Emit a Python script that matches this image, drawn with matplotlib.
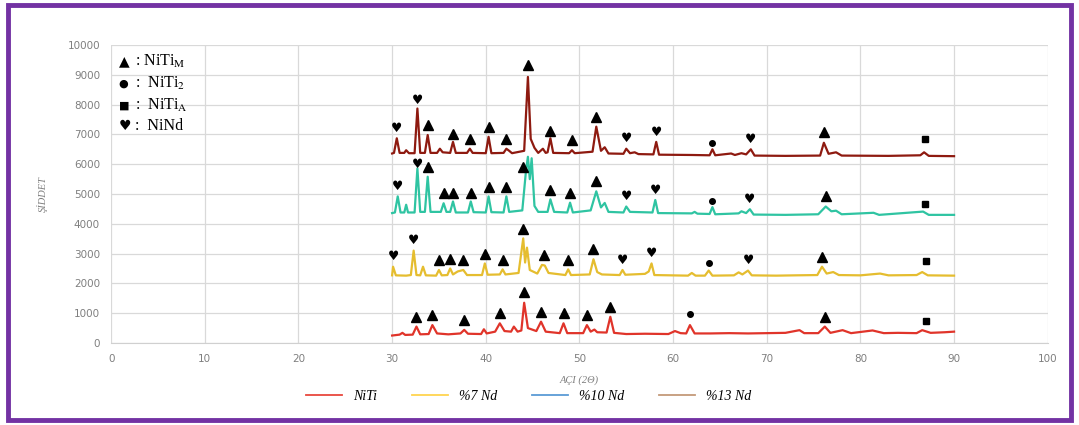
import matplotlib
matplotlib.use("Agg")
import matplotlib.pyplot as plt
from matplotlib.lines import Line2D
from matplotlib.patches import Rectangle

plt.rcParams['mathtext.fontset'] = 'stix'

# XRD desenleri (2θ, şiddet) - okunan değerler
niti_x = [30.0, 30.8, 31.1, 31.4, 32.2, 32.6, 33.0, 33.9, 34.3, 34.8, 36.0, 37.3, 37.7, 38.1,
          39.5, 39.8, 40.1, 41.0, 41.5, 42.0, 42.7, 43.0, 43.4, 43.8, 44.1, 44.5, 45.4, 45.9,
          46.4, 47.9, 48.3, 48.7, 50.4, 50.8, 51.2, 51.6, 51.9, 52.9, 53.3, 53.7, 55.0, 57.0,
          59.5, 60.2, 60.8, 61.4, 61.8, 62.3, 64.0, 66.0, 68.0, 70.0, 72.0, 73.5, 74.0, 75.5,
          76.2, 76.8, 78.1, 79.0, 81.3, 82.5, 84.0, 86.0, 86.6, 87.5, 89.0, 90.0]
niti_y = [250, 280, 340, 270, 280, 550, 290, 300, 600, 320, 290, 320, 440, 310,
          300, 460, 320, 380, 660, 400, 380, 550, 380, 420, 1350, 500, 400, 715,
          380, 330, 660, 330, 330, 600, 380, 450, 360, 350, 880, 340, 300, 310,
          300, 400, 330, 320, 600, 320, 320, 330, 320, 330, 340, 430, 330, 330,
          550, 340, 430, 330, 420, 330, 340, 330, 430, 340, 360, 380]

nd7_x = [30.0, 30.1, 30.4, 31.5, 32.0, 32.3, 32.6, 33.0, 33.3, 33.6, 34.7, 35.0, 35.3, 35.9,
         36.2, 36.5, 37.0, 37.6, 38.0, 39.6, 39.9, 40.2, 41.5, 41.8, 42.1, 43.5, 44.0, 44.2,
         44.4, 44.7, 45.5, 46.0, 46.3, 46.7, 48.5, 48.8, 49.1, 51.1, 51.5, 51.9, 52.4, 54.3,
         54.6, 54.9, 57.0, 57.4, 57.7, 58.0, 61.6, 62.0, 62.4, 63.4, 63.8, 64.2, 66.5, 67.0,
         67.4, 68.0, 68.4, 71.0, 73.0, 75.4, 75.9, 76.4, 77.1, 77.7, 80.0, 82.1, 83.0, 86.0,
         86.6, 87.2, 90.0]
nd7_y = [2270, 2560, 2270, 2260, 2280, 3100, 2280, 2270, 2560, 2270, 2260, 2450, 2270, 2280,
         2500, 2300, 2400, 2450, 2280, 2280, 2670, 2290, 2300, 2470, 2300, 2350, 3510, 2700,
         3200, 2450, 2330, 2620, 2600, 2350, 2280, 2470, 2280, 2300, 2810, 2380, 2300, 2280,
         2450, 2290, 2320, 2400, 2670, 2280, 2260, 2350, 2260, 2260, 2430, 2260, 2270, 2370,
         2300, 2430, 2270, 2260, 2270, 2280, 2560, 2330, 2380, 2280, 2270, 2330, 2270, 2280,
         2380, 2270, 2260]

nd10_x = [30.0, 30.3, 30.6, 30.9, 31.3, 31.5, 31.7, 32.4, 32.7, 33.0, 33.5, 33.8, 34.1, 35.2,
          35.5, 35.8, 36.2, 36.5, 36.8, 38.1, 38.4, 38.7, 40.0, 40.3, 40.6, 41.9, 42.2, 42.5,
          43.9, 44.3, 44.5, 44.7, 44.9, 45.2, 45.6, 46.6, 46.9, 47.3, 48.7, 49.0, 49.3, 51.2,
          51.8, 52.3, 52.7, 53.1, 54.7, 55.0, 55.4, 57.8, 58.1, 58.4, 62.0, 62.3, 62.6, 63.9,
          64.2, 64.5, 67.0, 67.3, 67.8, 68.2, 68.6, 72.0, 75.5, 76.3, 76.9, 77.4, 78.0, 81.4,
          82.0, 86.7, 87.3, 90.0]
nd10_y = [4360, 4380, 4920, 4380, 4380, 4640, 4380, 4380, 5860, 4400, 4400, 5580, 4400, 4400,
          4690, 4400, 4400, 4750, 4380, 4380, 4750, 4390, 4380, 4920, 4390, 4380, 4920, 4400,
          4450, 5800, 6250, 5500, 6200, 4600, 4400, 4400, 4820, 4400, 4380, 4710, 4380, 4450,
          5090, 4550, 4700, 4400, 4380, 4580, 4400, 4380, 4800, 4360, 4350, 4400, 4340, 4330,
          4560, 4320, 4350, 4420, 4360, 4490, 4310, 4300, 4320, 4580, 4420, 4440, 4320, 4370,
          4300, 4410, 4300, 4300]

nd13_x = [30.0, 30.2, 30.5, 30.8, 31.3, 31.5, 31.8, 32.4, 32.7, 33.0, 33.5, 33.8, 34.1, 34.8,
          35.1, 35.4, 36.2, 36.5, 36.8, 38.0, 38.3, 38.6, 40.0, 40.3, 40.6, 41.9, 42.2, 42.5,
          42.8, 44.1, 44.5, 44.8, 45.2, 45.6, 46.1, 46.4, 46.6, 46.9, 47.2, 48.9, 49.2, 49.5,
          51.4, 51.8, 52.3, 52.7, 53.1, 54.7, 55.0, 55.4, 55.9, 56.3, 57.9, 58.2, 58.5, 62.0,
          63.9, 64.2, 64.5, 66.2, 66.6, 67.3, 67.8, 68.3, 68.7, 72.0, 75.7, 76.1, 76.6, 77.4,
          78.0, 83.0, 86.4, 86.8, 87.3, 90.0]
nd13_y = [6360, 6380, 6870, 6380, 6380, 6470, 6370, 6370, 7870, 6380, 6380, 6980, 6380, 6380,
          6520, 6400, 6380, 6750, 6380, 6380, 6520, 6380, 6370, 6920, 6370, 6380, 6520, 6450,
          6370, 6450, 8930, 6850, 6550, 6380, 6520, 6380, 6400, 6870, 6380, 6370, 6470, 6370,
          6420, 7260, 6450, 6570, 6360, 6350, 6520, 6370, 6400, 6340, 6330, 6750, 6320, 6310,
          6300, 6500, 6300, 6360, 6310, 6370, 6330, 6500, 6290, 6280, 6290, 6720, 6350, 6400,
          6290, 6280, 6300, 6400, 6280, 6270]

# faz işaretleri: (2θ, şiddet, faz)
peaks = [
    (32.6, 880, 'M'), (34.3, 930, 'M'), (37.7, 770, 'M'), (41.5, 990, 'M'), (44.1, 1720, 'M'),
    (45.9, 1040, 'M'), (48.3, 990, 'M'), (50.8, 940, 'M'), (53.3, 1210, 'M'), (76.2, 880, 'M'),
    (61.8, 960, '2'), (87.0, 750, 'A'),
    (30.1, 2900, 'N'), (32.3, 3430, 'N'), (54.6, 2780, 'N'), (57.7, 3000, 'N'), (68.0, 2760, 'N'),
    (35.0, 2780, 'M'), (36.2, 2830, 'M'), (37.6, 2780, 'M'), (39.9, 3000, 'M'), (41.8, 2800, 'M'),
    (44.0, 3840, 'M'), (46.2, 2950, 'M'), (48.8, 2800, 'M'), (51.5, 3140, 'M'), (75.9, 2890, 'M'),
    (63.8, 2700, '2'), (87.0, 2740, 'A'),
    (30.6, 5250, 'N'), (32.7, 5990, 'N'), (55.0, 4910, 'N'), (58.1, 5130, 'N'), (68.2, 4820, 'N'),
    (33.8, 5910, 'M'), (35.5, 5020, 'M'), (36.5, 5020, 'M'), (38.4, 5020, 'M'), (40.3, 5250, 'M'),
    (42.2, 5250, 'M'), (44.0, 5920, 'M'), (46.9, 5150, 'M'), (49.0, 5040, 'M'), (51.8, 5420, 'M'),
    (76.3, 4920, 'M'), (64.2, 4770, '2'), (86.9, 4650, 'A'),
    (30.5, 7200, 'N'), (32.7, 8150, 'N'), (55.0, 6850, 'N'), (58.2, 7080, 'N'), (68.3, 6830, 'N'),
    (33.8, 7310, 'M'), (36.5, 7000, 'M'), (38.3, 6850, 'M'), (40.3, 7250, 'M'), (42.2, 6850, 'M'),
    (44.5, 9330, 'M'), (46.9, 7110, 'M'), (49.2, 6800, 'M'), (51.8, 7570, 'M'), (76.1, 7090, 'M'),
    (64.2, 6700, '2'), (86.9, 6830, 'A'),
]

fig = plt.figure(figsize=(10.79, 4.25), dpi=100)
ax = fig.add_axes([0.103, 0.193, 0.868, 0.701])

ax.plot(niti_x, niti_y, color='#e0342a', lw=1.6, zorder=3)
ax.plot(nd7_x, nd7_y, color='#e5bd2f', lw=1.6, zorder=3)
ax.plot(nd10_x, nd10_y, color='#2fc4a2', lw=1.6, zorder=3)
ax.plot(nd13_x, nd13_y, color='#8e1a10', lw=1.6, zorder=3)

for x, y, p in peaks:
    if p == 'M':
        ax.plot(x, y, marker='^', color='black', ms=6.5, ls='none', zorder=4)
    elif p == '2':
        ax.plot(x, y, marker='o', color='black', ms=4, ls='none', zorder=4)
    elif p == 'A':
        ax.plot(x, y, marker='s', color='black', ms=4.5, ls='none', zorder=4)
    else:
        ax.text(x, y, '\u2665', ha='center', va='center', fontsize=9, color='black', zorder=4)

ax.set_xlim(0, 100)
ax.set_ylim(0, 10000)
ax.set_xticks(range(0, 101, 10))
ax.set_yticks(range(0, 10001, 1000))
ax.grid(True, color='#d9d9d9', lw=0.9)
ax.set_axisbelow(True)
for s in ['top', 'right', 'left']:
    ax.spines[s].set_visible(False)
ax.spines['bottom'].set_color('#d0d0d0')
ax.tick_params(length=0, colors='#7f7f7f', labelsize=7.5, pad=8)
ax.set_xlabel('AÇI (2Θ)', fontsize=7.5, style='italic', color='#7f7f7f', family='Liberation Serif', labelpad=8)
ax.set_ylabel('ŞİDDET', fontsize=7.5, style='italic', color='#7f7f7f', family='Liberation Serif', labelpad=14)

# faz açıklaması (sol üst)
ax.text(0.8, 9450, '\u25b2', fontsize=10, va='center', color='black')
ax.text(0.8, 8700, '\u25cf', fontsize=8, va='center', color='black')
ax.text(0.8, 7980, '\u25a0', fontsize=8, va='center', color='black')
ax.text(0.8, 7270, '\u2665', fontsize=10, va='center', color='black')
labels = [r': NiTi$_{\mathrm{M}}$', r':  NiTi$_{2}$', r':  NiTi$_{\mathrm{A}}$', ':  NiNd']
for y, t in zip([9450, 8700, 7980, 7270], labels):
    ax.text(2.6, y, t, fontsize=11.5, va='center', family='Liberation Serif')

handles = [Line2D([], [], color=c, lw=1.3) for c in ['#e8483e', '#ffd44f', '#5b9bd5', '#c49a7a']]
fig.legend(handles, ['NiTi', '%7 Nd', '%10 Nd', '%13 Nd'], loc='center', bbox_to_anchor=(0.49, 0.068),
           ncol=4, frameon=False, handlelength=2.6, columnspacing=2.5,
           prop={'family': 'Liberation Serif', 'style': 'italic', 'size': 10})

fig.patches.append(Rectangle((0.007, 0.012), 0.986, 0.976, transform=fig.transFigure,
                             fill=False, edgecolor='#7332a3', lw=3.5))

fig.savefig('out.png', dpi=100)
